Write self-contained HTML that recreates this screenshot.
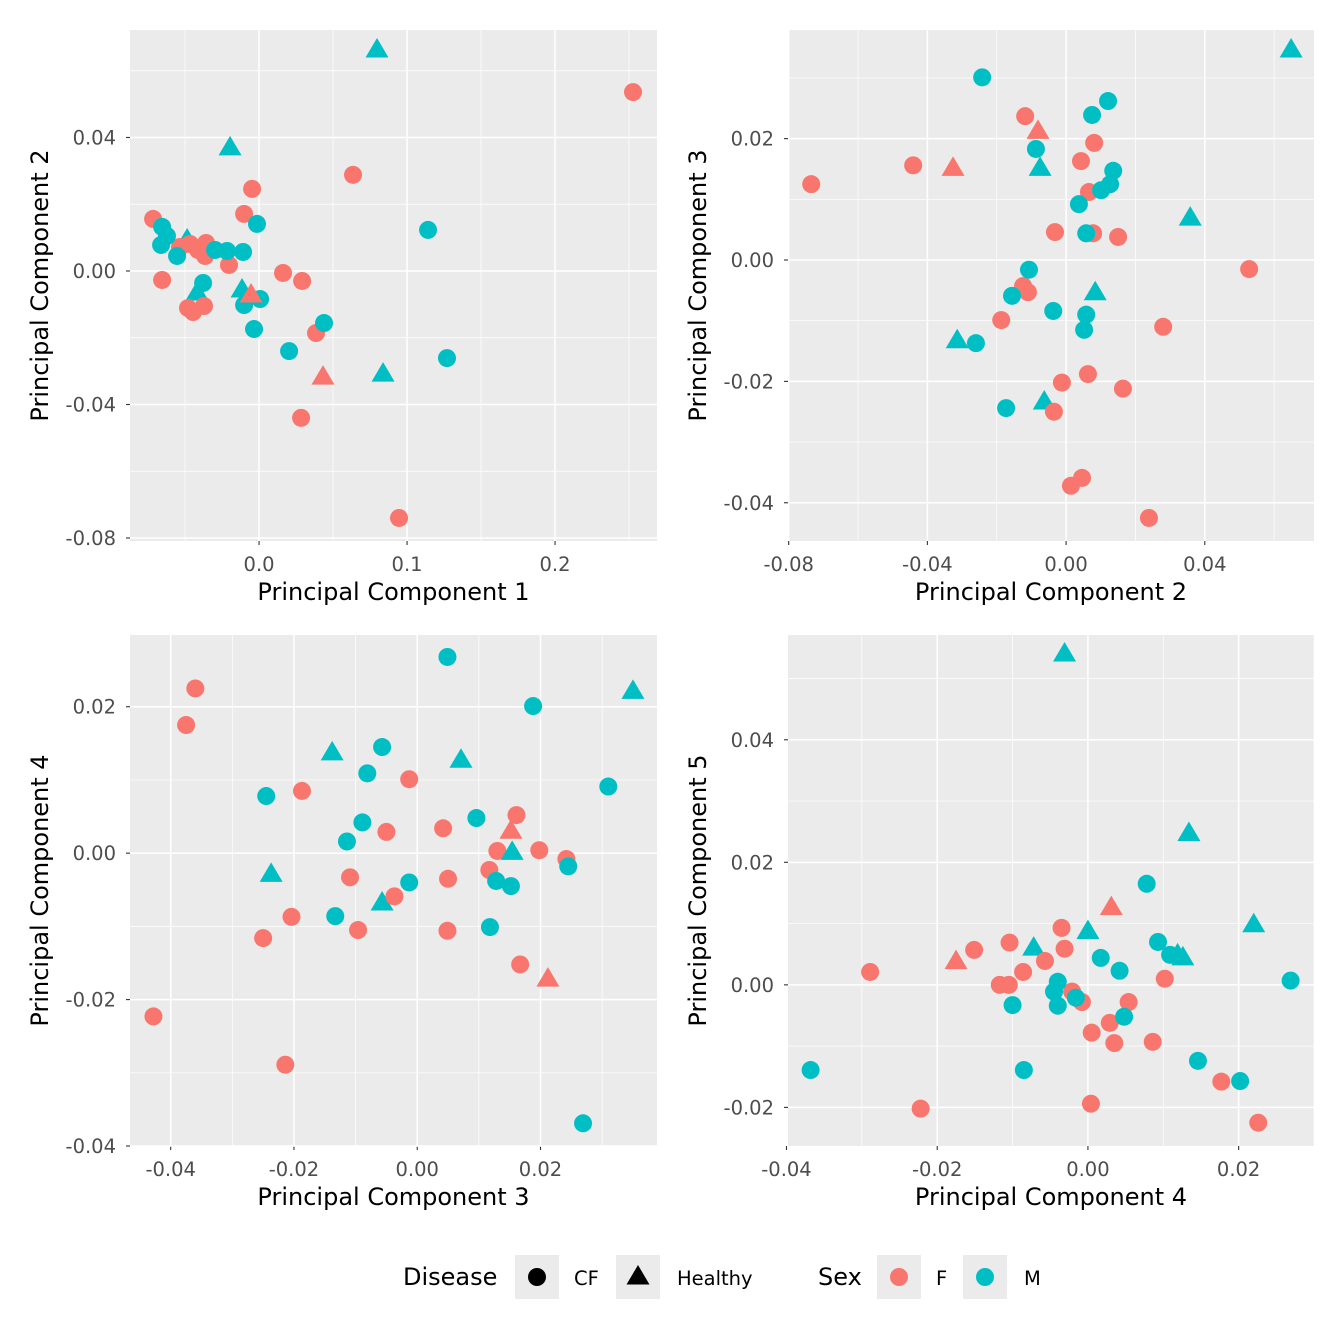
<!DOCTYPE html>
<html><head><meta charset="utf-8">
<style>
html,body{margin:0;padding:0;background:#fff;}
svg{display:block;font-family:"DejaVu Sans","Liberation Sans",sans-serif;}
</style></head>
<body>
<svg id="chart" width="1344" height="1344" viewBox="0 0 1344 1344" xmlns="http://www.w3.org/2000/svg"></svg>
<script>
// Data rows: [x, y, disease, sex]
const panel1Points = [
[0.0797,0.0662,'H','M'],[-0.0196,0.0369,'H','M'],[-0.0486,0.0093,'H','M'],[-0.0419,-0.0066,'H','M'],[-0.0115,-0.0057,'H','M'],[0.0838,-0.0309,'H','M'],
[0.2527,0.0536,'CF','F'],[-0.0716,0.0156,'CF','F'],[-0.0047,0.0246,'CF','F'],[-0.0101,0.0171,'CF','F'],[0.0635,0.0288,'CF','F'],[-0.0655,-0.0027,'CF','F'],
[-0.0534,0.0072,'CF','F'],[-0.0466,0.0081,'CF','F'],[-0.0358,0.0084,'CF','F'],[-0.0412,0.0063,'CF','F'],[-0.0365,0.0045,'CF','F'],[-0.048,-0.0111,'CF','F'],
[-0.0446,-0.0123,'CF','F'],[-0.0372,-0.0105,'CF','F'],[-0.0203,0.0018,'CF','F'],[0.0162,-0.0006,'CF','F'],[0.0291,-0.003,'CF','F'],[0.0385,-0.0186,'CF','F'],
[0.0284,-0.044,'CF','F'],[0.0946,-0.074,'CF','F'],
[-0.0655,0.0132,'CF','M'],[-0.0622,0.0105,'CF','M'],[-0.0662,0.0078,'CF','M'],[-0.0554,0.0045,'CF','M'],[-0.0297,0.0063,'CF','M'],[-0.0216,0.006,'CF','M'],
[-0.0108,0.0057,'CF','M'],[-0.0014,0.0141,'CF','M'],[-0.0378,-0.0036,'CF','M'],[-0.0101,-0.0102,'CF','M'],[0.0007,-0.0084,'CF','M'],[-0.0034,-0.0174,'CF','M'],
[0.0203,-0.024,'CF','M'],[0.0439,-0.0156,'CF','M'],[0.1142,0.0123,'CF','M'],[0.127,-0.0261,'CF','M'],
[-0.0054,-0.0072,'H','F'],[0.0432,-0.0318,'H','F']
];
const panel2Points = [
[0.0649,0.0346,'H','M'],[-0.0075,0.0151,'H','M'],[0.0358,0.0069,'H','M'],[0.0084,-0.0054,'H','M'],[-0.0314,-0.0133,'H','M'],[-0.0063,-0.0234,'H','M'],
[-0.0735,0.0125,'CF','F'],[-0.0441,0.0156,'CF','F'],[-0.0118,0.0237,'CF','F'],[0.0043,0.0163,'CF','F'],[0.0081,0.0193,'CF','F'],[0.0066,0.0112,'CF','F'],
[-0.0032,0.0046,'CF','F'],[0.0078,0.0044,'CF','F'],[0.015,0.0038,'CF','F'],[0.0528,-0.0015,'CF','F'],[-0.0124,-0.0043,'CF','F'],[-0.011,-0.0053,'CF','F'],
[-0.0187,-0.0099,'CF','F'],[0.028,-0.011,'CF','F'],[-0.0012,-0.0202,'CF','F'],[0.0063,-0.0188,'CF','F'],[0.0164,-0.0212,'CF','F'],[-0.0035,-0.025,'CF','F'],
[0.0014,-0.0372,'CF','F'],[0.0046,-0.0359,'CF','F'],[0.0239,-0.0425,'CF','F'],
[-0.0242,0.0301,'CF','M'],[0.0121,0.0262,'CF','M'],[0.0075,0.0239,'CF','M'],[-0.0087,0.0183,'CF','M'],[0.0136,0.0147,'CF','M'],[0.0127,0.0125,'CF','M'],
[0.0101,0.0115,'CF','M'],[0.0037,0.0092,'CF','M'],[0.0058,0.0044,'CF','M'],[-0.0107,-0.0016,'CF','M'],[-0.0156,-0.0059,'CF','M'],[-0.0037,-0.0084,'CF','M'],
[0.0058,-0.009,'CF','M'],[0.0052,-0.0115,'CF','M'],[-0.026,-0.0137,'CF','M'],[-0.0173,-0.0244,'CF','M'],
[-0.0326,0.0151,'H','F'],[-0.0081,0.0212,'H','F']
];
const panel3Points = [
[0.035,0.0221,'H','M'],[-0.0138,0.0137,'H','M'],[0.0071,0.0127,'H','M'],[-0.0237,-0.0029,'H','M'],[-0.0057,-0.0068,'H','M'],
[-0.036,0.0225,'CF','F'],[-0.0375,0.0175,'CF','F'],[-0.0187,0.0085,'CF','F'],[-0.0013,0.0101,'CF','F'],[-0.005,0.0029,'CF','F'],[0.0042,0.0034,'CF','F'],
[0.0161,0.0052,'CF','F'],[0.013,0.0003,'CF','F'],[0.0198,0.0004,'CF','F'],[0.0242,-0.0008,'CF','F'],[-0.0109,-0.0033,'CF','F'],[0.005,-0.0035,'CF','F'],
[0.0117,-0.0023,'CF','F'],[-0.0037,-0.0059,'CF','F'],[-0.0204,-0.0087,'CF','F'],[-0.025,-0.0116,'CF','F'],[-0.0096,-0.0105,'CF','F'],[0.0049,-0.0106,'CF','F'],
[0.0167,-0.0152,'CF','F'],[-0.0428,-0.0223,'CF','F'],[-0.0214,-0.0289,'CF','F'],
[0.0049,0.0268,'CF','M'],[0.0188,0.0201,'CF','M'],[-0.0057,0.0145,'CF','M'],[-0.0081,0.0109,'CF','M'],[-0.0089,0.0042,'CF','M'],[-0.0114,0.0016,'CF','M'],
[-0.0245,0.0078,'CF','M'],[0.0096,0.0048,'CF','M'],[0.031,0.0091,'CF','M'],[-0.0013,-0.004,'CF','M'],[0.0128,-0.0038,'CF','M'],[0.0152,-0.0045,'CF','M'],
[0.0245,-0.0018,'CF','M'],[-0.0133,-0.0086,'CF','M'],[0.0118,-0.0101,'CF','M'],[0.0269,-0.0369,'CF','M'],
[0.0152,0.003,'H','F'],[0.0154,0.0001,'H','M'],[0.0212,-0.0172,'H','F']
];
const panel4Points = [
[-0.0031,0.054,'H','M'],[0.0134,0.0247,'H','M'],[0.022,0.0098,'H','M'],[0.0,0.0087,'H','M'],[-0.0072,0.006,'H','M'],[0.0119,0.0049,'H','M'],[0.0126,0.0044,'H','M'],
[-0.0289,0.0021,'CF','F'],[-0.0151,0.0057,'CF','F'],[-0.0104,0.0069,'CF','F'],[-0.0035,0.0093,'CF','F'],[-0.0031,0.0059,'CF','F'],[-0.0057,0.0039,'CF','F'],
[-0.0086,0.0021,'CF','F'],[-0.0117,0.0,'CF','F'],[-0.0105,0.0,'CF','F'],[-0.0021,-0.0011,'CF','F'],[-0.0008,-0.0028,'CF','F'],[0.0054,-0.0028,'CF','F'],
[0.0029,-0.0062,'CF','F'],[0.0005,-0.0078,'CF','F'],[0.0035,-0.0095,'CF','F'],[0.0086,-0.0093,'CF','F'],[0.0102,0.001,'CF','F'],[0.0177,-0.0158,'CF','F'],
[-0.0222,-0.0202,'CF','F'],[0.0004,-0.0194,'CF','F'],[0.0226,-0.0225,'CF','F'],
[0.0078,0.0165,'CF','M'],[0.0093,0.007,'CF','M'],[0.0109,0.0049,'CF','M'],[0.0017,0.0044,'CF','M'],[0.0042,0.0023,'CF','M'],[-0.004,0.0005,'CF','M'],
[-0.0045,-0.0011,'CF','M'],[-0.0016,-0.0021,'CF','M'],[-0.004,-0.0034,'CF','M'],[-0.01,-0.0033,'CF','M'],[0.0048,-0.0052,'CF','M'],[0.0146,-0.0124,'CF','M'],
[0.0202,-0.0157,'CF','M'],[0.0269,0.0007,'CF','M'],[-0.0368,-0.0139,'CF','M'],[-0.0085,-0.0139,'CF','M'],
[-0.0175,0.0038,'H','F'],[0.0031,0.0126,'H','F']
];
const panel1XTicks = [0.0,0.1,0.2], panel1XLabels = ['0.0','0.1','0.2'];
const panel1YTicks = [0.04,0.0,-0.04,-0.08], panel1YLabels = ['0.04','0.00','-0.04','-0.08'];
const panel2XTicks = [-0.08,-0.04,0,0.04], panel2XLabels = ['-0.08','-0.04','0.00','0.04'];
const panel2YTicks = [0.02,0,-0.02,-0.04], panel2YLabels = ['0.02','0.00','-0.02','-0.04'];
const panel3XTicks = [-0.04,-0.02,0,0.02], panel3XLabels = ['-0.04','-0.02','0.00','0.02'];
const panel3YTicks = [0.02,0,-0.02,-0.04], panel3YLabels = ['0.02','0.00','-0.02','-0.04'];
const panel4XTicks = [-0.04,-0.02,0,0.02], panel4XLabels = ['-0.04','-0.02','0.00','0.02'];
const panel4YTicks = [0.04,0.02,0,-0.02], panel4YLabels = ['0.04','0.02','0.00','-0.02'];

const NS='http://www.w3.org/2000/svg';
const svg=document.getElementById('chart');
const COL={F:'#F8766D',M:'#00BFC4'};
function mk(tag,attrs,parent){const e=document.createElementNS(NS,tag);for(const k in attrs)e.setAttribute(k,attrs[k]);(parent||svg).appendChild(e);return e;}
function marker(g,cx,cy,dis,color){
  if(dis==='H'){return mk('polygon',{points:`${cx},${cy-12} ${cx-11.5},${cy+7.5} ${cx+11.5},${cy+7.5}`,fill:color},g);}
  return mk('circle',{cx:cx,cy:cy,r:9,fill:color},g);
}
function panel(name,box,xd,yd,xt,xl,yt,yl,pts,xTitle,yTitle){
  const g=mk('g',{});
  
  
  const sx=v=>box.x0+(v-xd[0])/(xd[1]-xd[0])*(box.x1-box.x0);
  const sy=v=>box.y1-(v-yd[0])/(yd[1]-yd[0])*(box.y1-box.y0);
  const bg=mk('rect',{x:box.x0,y:box.y0,width:box.x1-box.x0,height:box.y1-box.y0,fill:'#EBEBEB'},g);
  
  
  const xs=[...xt].sort((a,b)=>a-b), ys=[...yt].sort((a,b)=>a-b);
  const minors=(arr,d)=>{const st=arr[1]-arr[0];const r=[];for(let v=arr[0]-st/2;v<=d[1];v+=st){if(v>=d[0])r.push(v);}return r;};
  minors(xs,xd).forEach(v=>mk('line',{x1:sx(v),x2:sx(v),y1:box.y0,y2:box.y1,stroke:'#fff','stroke-width':0.7},g));
  minors(ys,yd).forEach(v=>mk('line',{y1:sy(v),y2:sy(v),x1:box.x0,x2:box.x1,stroke:'#fff','stroke-width':0.7},g));
  xt.forEach((v,i)=>{
    mk('line',{x1:sx(v),x2:sx(v),y1:box.y0,y2:box.y1,stroke:'#fff','stroke-width':1.5},g);
    mk('line',{x1:sx(v),x2:sx(v),y1:box.y1,y2:box.y1+4,stroke:'#333','stroke-width':1.1},g);
    const t=mk('text',{x:sx(v),y:box.y1+30,'text-anchor':'middle','font-size':19.5,fill:'#4D4D4D'},g);t.textContent=xl[i];
    
    
  });
  yt.forEach((v,i)=>{
    mk('line',{y1:sy(v),y2:sy(v),x1:box.x0,x2:box.x1,stroke:'#fff','stroke-width':1.5},g);
    mk('line',{y1:sy(v),y2:sy(v),x1:box.x0-4,x2:box.x0,stroke:'#333','stroke-width':1.1},g);
    const t=mk('text',{x:box.x0-14,y:sy(v)+7,'text-anchor':'end','font-size':19.5,fill:'#4D4D4D'},g);t.textContent=yl[i];
    
    
  });
  pts.forEach(p=>{
    const m=marker(g,sx(p[0]),sy(p[1]),p[2],COL[p[3]]);
    
    
  });
  const xtt=mk('text',{x:(box.x0+box.x1)/2,y:box.y1+59,'text-anchor':'middle','font-size':24,fill:'#000'},g);xtt.textContent=xTitle;
  
  
  const cy=(box.y0+box.y1)/2, cx=box.x0-82;
  const ytt=mk('text',{x:cx,y:cy,'text-anchor':'middle','font-size':24,fill:'#000',transform:`rotate(-90 ${cx} ${cy})`},g);ytt.textContent=yTitle;
  
  
}
panel('panel-pc1-pc2',{x0:130,x1:657,y0:30,y1:541},[-0.0872,0.2689],[-0.0809,0.0722],panel1XTicks,panel1XLabels,panel1YTicks,panel1YLabels,panel1Points,'Principal Component 1','Principal Component 2');
panel('panel-pc2-pc3',{x0:788,x1:1314,y0:30,y1:541},[-0.0802,0.0715],[-0.0463,0.0379],panel2XTicks,panel2XLabels,panel2YTicks,panel2YLabels,panel2Points,'Principal Component 2','Principal Component 3');
panel('panel-pc3-pc4',{x0:130,x1:657,y0:635,y1:1146},[-0.0466,0.0389],[-0.0400,0.0298],panel3XTicks,panel3XLabels,panel3YTicks,panel3YLabels,panel3Points,'Principal Component 3','Principal Component 4');
panel('panel-pc4-pc5',{x0:788,x1:1314,y0:635,y1:1146},[-0.0398,0.0300],[-0.0263,0.0571],panel4XTicks,panel4XLabels,panel4YTicks,panel4YLabels,panel4Points,'Principal Component 4','Principal Component 5');

// legend
const lg=mk('g',{});


function ltext(x,txt,size,name){const t=mk('text',{x:x,y:1285,'font-size':size,fill:'#000'},lg);t.textContent=txt;
  
  }
function lkey(x,dis,color,name){const k=mk('g',{},lg);
  
  
  mk('rect',{x:x,y:1255,width:44,height:44,fill:'#EBEBEB'},k);marker(k,x+22,1277,dis,color);}
ltext(403,'Disease',24,'legend-title-disease');
lkey(515,'CF','#000','legend-key-cf');ltext(574,'CF',19.5,'legend-label-cf');
lkey(616,'H','#000','legend-key-healthy');ltext(677,'Healthy',19.5,'legend-label-healthy');
ltext(818,'Sex',24,'legend-title-sex');
lkey(877,'CF',COL.F,'legend-key-f');ltext(936,'F',19.5,'legend-label-f');
lkey(963,'CF',COL.M,'legend-key-m');ltext(1024,'M',19.5,'legend-label-m');
</script>
</body></html>
